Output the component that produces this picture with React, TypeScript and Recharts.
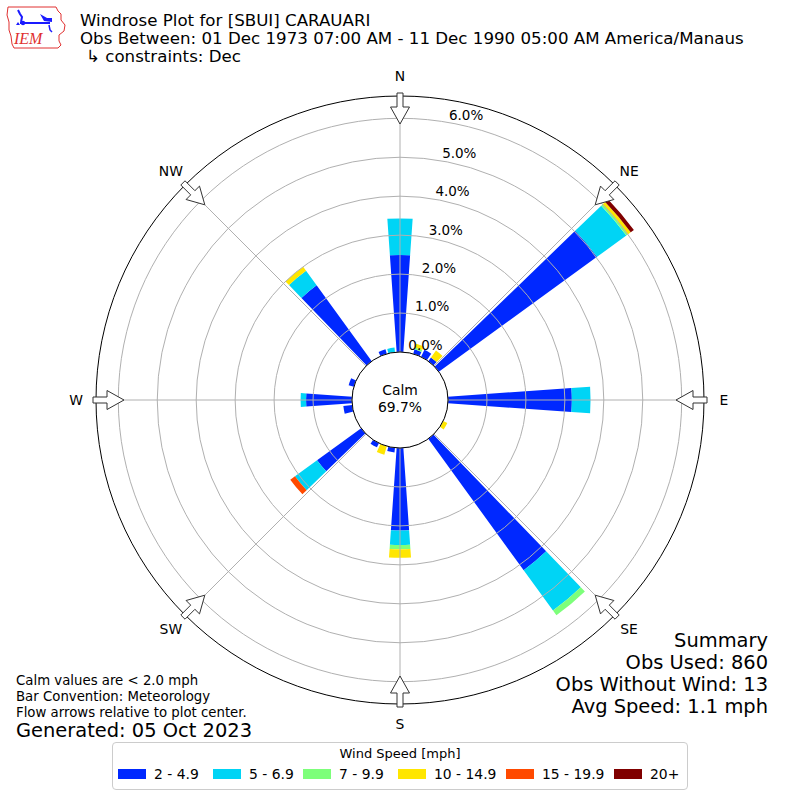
import React from "react";
import {
  Legend,
  PolarAngleAxis,
  PolarRadiusAxis,
  RadialBar,
  RadialBarChart,
  Sector,
} from "recharts";

// Wind direction bins (degrees, meteorological convention)
const DIRECTIONS = [
  0, 10, 20, 30, 40, 50, 60, 70, 80, 90, 100, 110, 120, 130, 140, 150, 160, 170,
  180, 190, 200, 210, 220, 230, 240, 250, 260, 270, 280, 290, 300, 310, 320, 330, 340, 350,
];

// Frequency (%) per direction bin, one array per speed class
const SPEED_2_5 = [
  2.49, 0, 0.12, 0.2, 0.12, 5.02, 0, 0, 0, 3.18, 0, 0, 0, 0, 4.17, 0, 0, 0,
  2.12, 0.12, 0, 0.12, 0, 1.4, 0, 0, 0.23, 1.18, 0, 0.14, 0, 0, 2.41, 0, 0.12, 0,
];
const SPEED_5_7 = [
  0.94, 0, 0, 0, 0, 0.93, 0, 0, 0, 0.48, 0, 0, 0, 0, 1.28, 0, 0, 0,
  0.37, 0, 0, 0, 0, 0.7, 0, 0, 0, 0.14, 0, 0, 0, 0, 0.46, 0, 0, 0.12,
];
const SPEED_7_10 = [
  0, 0, 0.05, 0, 0, 0.05, 0, 0, 0, 0, 0, 0, 0, 0, 0.15, 0, 0, 0,
  0.11, 0, 0, 0, 0, 0, 0, 0, 0, 0, 0, 0, 0, 0, 0, 0, 0, 0,
];
const SPEED_10_15 = [
  0, 0, 0.1, 0, 0.22, 0.09, 0, 0, 0, 0, 0, 0, 0.12, 0, 0, 0, 0, 0,
  0.22, 0, 0.23, 0, 0, 0, 0, 0, 0, 0, 0, 0, 0, 0, 0.13, 0, 0, 0,
];
const SPEED_15_20 = [
  0, 0, 0, 0, 0, 0, 0, 0, 0, 0, 0, 0, 0, 0, 0, 0, 0, 0,
  0, 0, 0, 0, 0, 0.15, 0, 0, 0, 0, 0, 0, 0, 0, 0, 0, 0, 0,
];
const SPEED_20_UP = [
  0, 0, 0, 0, 0, 0.1, 0, 0, 0, 0, 0, 0, 0, 0, 0, 0, 0, 0,
  0, 0, 0, 0, 0, 0, 0, 0, 0, 0, 0, 0, 0, 0, 0, 0, 0, 0,
];

const SPEED_LABELS = ["2 - 4.9", "5 - 6.9", "7 - 9.9", "10 - 14.9", "15 - 19.9", "20+"];
const SPEED_COLORS = ["#0028ff", "#00d4f5", "#7dff7a", "#ffe600", "#ff4a00", "#800000"];
const SERIES = [SPEED_2_5, SPEED_5_7, SPEED_7_10, SPEED_10_15, SPEED_15_20, SPEED_20_UP];

const RADIUS_TICKS = [0, 1, 2, 3, 4, 5, 6];
const COMPASS_TICKS = [0, 45, 90, 135, 180, 225, 270, 315];
const COMPASS_LABELS = ["N", "NE", "E", "SE", "S", "SW", "W", "NW"];

const SUMMARY_LINES = ["Summary", "Obs Used: 860", "Obs Without Wind: 13", "Avg Speed: 1.1 mph"];
const NOTE_LINES = [
  "Calm values are < 2.0 mph",
  "Bar Convention: Meteorology",
  "Flow arrows relative to plot center.",
];
const CALM_PCT = "69.7%";

const FONT = "'DejaVu Sans', sans-serif";
const SIZE = 800;
const CX = 400;
const CY = 400;
const INNER_R = 48;
const PX_PER_PCT = 38.95;
// radial scale runs 0..7 %, the frame circle sits a bit inside that
const R_MAX = 7;
const SCALE_R = INNER_R + R_MAX * PX_PER_PCT;
const FRAME_R = 304;
// legend entry offsets inside the legend box
const LEGEND_ITEM_X = [6, 101, 191, 286, 394, 502];

const data = DIRECTIONS.map((dir, i) => {
  const row: Record<string, number> = { dir };
  SERIES.forEach((s, k) => {
    row[`s${k}`] = s[i];
  });
  return row;
});

// skip empty stack segments so they don't leave a hairline
function BarSector(props: any) {
  if (Math.abs(props.outerRadius - props.innerRadius) < 0.01) return <g />;
  return <Sector {...props} stroke="none" />;
}

function RadiusTick(props: any) {
  const { x, y, payload } = props;
  const r = Math.hypot(x - CX, y - CY);
  return (
    <g>
      <circle cx={CX} cy={CY} r={r} fill="none" stroke="#b0b0b0" strokeWidth={1} />
      <text x={x} y={y - 3} textAnchor="start" fontSize={13.5} fontFamily={FONT} fill="#000">
        {`${Number(payload.value).toFixed(1)}%`}
      </text>
    </g>
  );
}

function CompassTick(props: any) {
  const { payload, index } = props;
  const idx = COMPASS_TICKS.indexOf(payload.value);
  // compass degrees -> screen unit vector
  const rad = (payload.value * Math.PI) / 180;
  const ux = Math.sin(rad);
  const uy = -Math.cos(rad);
  const px = -uy;
  const py = ux;
  const pt = (r: number, w: number) =>
    `${(CX + ux * r + px * w).toFixed(1)},${(CY + uy * r + py * w).toFixed(1)}`;
  const tail = FRAME_R + 3;
  const base = FRAME_R - 11;
  const tip = FRAME_R - 28;
  const arrow = [
    pt(tail, -3),
    pt(tail, 3),
    pt(base, 3),
    pt(base, 9.5),
    pt(tip, 0),
    pt(base, -9.5),
    pt(base, -3),
  ].join(" ");
  const lr = FRAME_R + 20;
  return (
    <g>
      {index === 0 && <circle cx={CX} cy={CY} r={FRAME_R} fill="none" stroke="#000" strokeWidth={1} />}
      <line
        x1={CX + ux * INNER_R}
        y1={CY + uy * INNER_R}
        x2={CX + ux * FRAME_R}
        y2={CY + uy * FRAME_R}
        stroke="#b0b0b0"
        strokeWidth={1}
      />
      <polygon points={arrow} fill="#fff" stroke="#333" strokeWidth={1} />
      <text
        x={CX + ux * lr}
        y={CY + uy * lr}
        textAnchor="middle"
        dominantBaseline="central"
        fontSize={13.9}
        fontFamily={FONT}
        fill="#000"
      >
        {COMPASS_LABELS[idx]}
      </text>
    </g>
  );
}

function SpeedLegend() {
  return (
    <div
      style={{
        position: "relative",
        boxSizing: "border-box",
        width: 576,
        height: 48,
        border: "1px solid #cccccc",
        borderRadius: 4,
        background: "#fff",
        fontFamily: FONT,
        color: "#000",
      }}
    >
      <div style={{ textAlign: "center", fontSize: 13, marginTop: 3, lineHeight: "16px" }}>
        Wind Speed [mph]
      </div>
      {SPEED_LABELS.map((label, k) => (
        <div
          key={label}
          style={{
            position: "absolute",
            left: LEGEND_ITEM_X[k] - 1,
            top: 23,
            display: "flex",
            alignItems: "center",
          }}
        >
          <span
            style={{
              display: "inline-block",
              width: 28,
              height: 10,
              background: SPEED_COLORS[k],
              marginRight: 8,
            }}
          />
          <span style={{ fontSize: 13.9, lineHeight: "16px", whiteSpace: "nowrap" }}>{label}</span>
        </div>
      ))}
    </div>
  );
}

function Logo() {
  return (
    <g>
      <path
        d="M8,7 L56,7 L58,11 L61,14 L61,20 L65,25 L64,31 L59,35 L59,41 L61,45 L58,48 L14,48 L12,44 L11,36 L9,30 L9,22 L7,15 Z"
        fill="#fff"
        stroke="#e03030"
        strokeWidth={1}
      />
      <path d="M18,10 L20,14 L22,17 L21,22" fill="none" stroke="#1a1aff" strokeWidth={2} />
      <line x1={20} y1={23} x2={50} y2={23} stroke="#1a1aff" strokeWidth={2} />
      <circle cx={23} cy={23} r={2.2} fill="#1a1aff" />
      <path d="M40,14 L47,18 L52,18 L52,22 L44,21 Z" fill="#1a1aff" />
      <path d="M49,25 L50,30 L52,32" fill="none" stroke="#1a1aff" strokeWidth={1.5} />
      <path d="M16,25 L18,22 L20,25 Z" fill="#1a1aff" />
      <text
        x={14}
        y={44}
        fontSize={16}
        fontStyle="italic"
        fontFamily="'Liberation Serif', serif"
        fill="#e03030"
      >
        IEM
      </text>
    </g>
  );
}

export default function App() {
  return (
    <div
      style={{
        position: "absolute",
        left: 0,
        top: 0,
        width: SIZE,
        height: SIZE,
        background: "#fff",
        fontFamily: FONT,
      }}
    >
      <RadialBarChart
        width={SIZE}
        height={SIZE}
        data={data}
        cx={CX}
        cy={CY}
        innerRadius={INNER_R}
        outerRadius={SCALE_R}
        startAngle={85}
        endAngle={-275}
        layout="centric"
        barCategoryGap="10%"
        margin={{ top: 0, right: 0, bottom: 0, left: 0 }}
      >
        <PolarAngleAxis
          angleAxisId={0}
          dataKey="dir"
          type="category"
          tick={false}
          tickLine={false}
          axisLine={false}
        />
        {SERIES.map((_, k) => (
          <RadialBar
            key={SPEED_LABELS[k]}
            dataKey={`s${k}`}
            name={SPEED_LABELS[k]}
            stackId="speed"
            fill={SPEED_COLORS[k]}
            angleAxisId={0}
            radiusAxisId={0}
            shape={(p: any) => <BarSector {...p} />}
            isAnimationActive={false}
          />
        ))}
        <PolarRadiusAxis
          radiusAxisId={0}
          type="number"
          domain={[0, R_MAX]}
          ticks={RADIUS_TICKS}
          allowDataOverflow
          angle={80}
          axisLine={false}
          tickLine={false}
          tick={(p: any) => <RadiusTick {...p} />}
        />
        <PolarAngleAxis
          angleAxisId="compass"
          type="number"
          domain={[0, 360]}
          ticks={COMPASS_TICKS}
          allowDataOverflow
          axisLine={false}
          tickLine={false}
          tick={(p: any) => <CompassTick {...p} />}
        />
        <Legend
          verticalAlign="top"
          align="left"
          content={() => <SpeedLegend />}
          wrapperStyle={{ position: "absolute", left: 112, top: 742, width: 576, height: 48 }}
        />
      </RadialBarChart>

      <svg
        width={SIZE}
        height={SIZE}
        style={{ position: "absolute", left: 0, top: 0, pointerEvents: "none" }}
      >
        <Logo />
        <g fontFamily={FONT} fill="#000">
          <text x={80} y={26} fontSize={16.67}>
            Windrose Plot for [SBUI] CARAUARI
          </text>
          <text x={80} y={44} fontSize={16.67}>
            Obs Between: 01 Dec 1973 07:00 AM - 11 Dec 1990 05:00 AM America/Manaus
          </text>
          <text x={86} y={62} fontSize={16.67}>
            ↳ constraints: Dec
          </text>

          <circle cx={CX} cy={CY} r={INNER_R} fill="#fff" stroke="#000" strokeWidth={1} />
          <text x={CX} y={CY - 5} textAnchor="middle" fontSize={13.9}>
            Calm
          </text>
          <text x={CX} y={CY + 12} textAnchor="middle" fontSize={13.9}>
            {CALM_PCT}
          </text>

          {SUMMARY_LINES.map((line, i) => (
            <text key={line} x={768} y={647 + i * 22} textAnchor="end" fontSize={19.44}>
              {line}
            </text>
          ))}
          {NOTE_LINES.map((line, i) => (
            <text key={line} x={16} y={685 + i * 16} fontSize={13.3}>
              {line}
            </text>
          ))}
          <text x={16} y={737} fontSize={19.44}>
            Generated: 05 Oct 2023
          </text>
        </g>
      </svg>
    </div>
  );
}
